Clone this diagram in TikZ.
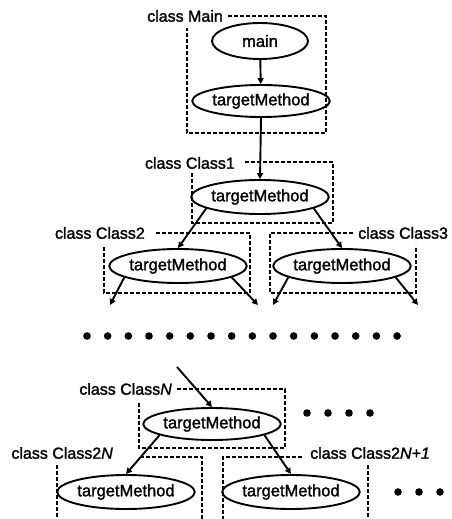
\documentclass[tikz,border=0pt]{standalone}
\usepackage{fontspec}
\setmainfont{Liberation Sans}
\newfontfamily\hfont{Liberation Sans}[BoldFont={Liberation Sans},BoldFeatures={FakeBold=1.6},BoldItalicFont={Liberation Sans Italic},BoldItalicFeatures={FakeBold=1.6}]
\usetikzlibrary{arrows.meta,shapes.geometric}
\begin{document}
\begin{tikzpicture}[x=1pt,y=-1pt,
  meth/.style={draw,ellipse,line width=1.9pt,inner sep=0pt,font=\hfont\bfseries\fontsize{16.5}{18}\selectfont},
  lbl/.style={inner sep=0pt,font=\hfont\bfseries\fontsize{16}{18}\selectfont},
  arr/.style={line width=1.9pt,-{Triangle[length=6pt,width=6pt]}},
  box/.style={line width=1.9pt,dash pattern=on 4pt off 2pt},
  dot/.style={fill=black,draw=none}]
\useasboundingbox (0,0) rectangle (451,519);
% class Main
\node[lbl,anchor=east] (lM) at (223,16) {class Main};
\node[meth,minimum width=96pt,minimum height=36pt] (m0) at (260,41) {main};
\node[meth,minimum width=122pt,minimum height=32pt] (t0) at (261,101) {targetMethod};
\draw[box] (lM.east) ++(5,0) -- (326,16) -- (326,133) -- (187,133) -- (187,28);
% class Class1
\node[lbl,anchor=east] (l1) at (235,163) {class Class1};
\node[meth,minimum width=124pt,minimum height=34pt] (t1) at (260,197) {targetMethod};
\draw[box] (245,162) -- (333,162) -- (333,223) -- (192,223) -- (192,173);
% class Class2
\node[lbl,anchor=east] (l2) at (145,233) {class Class2};
\node[meth,minimum width=122pt,minimum height=34pt] (t2) at (178,266) {targetMethod};
\draw[box] (156,233) -- (250,233) -- (250,293) -- (104,293) -- (104,245);
% class Class3
\node[lbl,anchor=west] (l3) at (358,233) {class Class3};
\node[meth,minimum width=126pt,minimum height=34pt] (t3) at (342,266) {targetMethod};
\draw[box] (353,233) -- (270,233) -- (270,293) -- (416,293) -- (416,246);
% arrows top part
\draw[arr] (m0) -- (t0);
\draw[arr] (t0.south) -- (t1.north);
\draw[arr] (t1.192) -- (t2.north);
\draw[arr] (t1.-12) -- (t3.north);
\coordinate (e1) at (110,305);
\coordinate (e2) at (258,305);
\coordinate (e3) at (273,305);
\coordinate (e4) at (418,305);
\draw[arr] (t2.192) -- (e1);
\draw[arr] (t2.-12) -- (e2);
\draw[arr] (t3.192) -- (e3);
\draw[arr] (t3.-12) -- (e4);
% row of dots
\foreach \i in {0,...,15} \fill[dot] (87+20.67*\i,336) circle (3.8pt);
% class ClassN
\node[lbl,anchor=east] (lN) at (172,389) {class Class\textit{N}};
\node[meth,minimum width=128pt,minimum height=32pt] (tN) at (212,424) {targetMethod};
\draw[box] (177,389) -- (285,389) -- (285,448) -- (139,448) -- (139,402);
\coordinate (sN) at (177,367);
\draw[arr] (sN) -- (tN.north);
\foreach \x in {307,328,349,370} \fill[dot] (\x,413) circle (3.8pt);
% class Class2N
\node[lbl,anchor=east] (l2N) at (113,453) {class Class2\textit{N}};
\node[meth,minimum width=118pt,minimum height=34pt] (t2N) at (126,492) {targetMethod};
\draw[box] (140,457) -- (202,457) -- (202,519);
\draw[box] (57,465) -- (57,519);
% class Class2N+1
\node[lbl,anchor=west] (l2N1) at (310,453) {class Class2\textit{N+1}};
\node[meth,minimum width=116pt,minimum height=34pt] (t2N1) at (291,492) {targetMethod};
\draw[box] (302,457) -- (223,457) -- (223,519);
\draw[box] (368,465) -- (368,519);
\foreach \x in {398,419,440} \fill[dot] (\x,492) circle (3.8pt);
\draw[arr] (tN.192) -- (t2N.north);
\draw[arr] (tN.-12) -- (t2N1.north);
\end{tikzpicture}
\end{document}
